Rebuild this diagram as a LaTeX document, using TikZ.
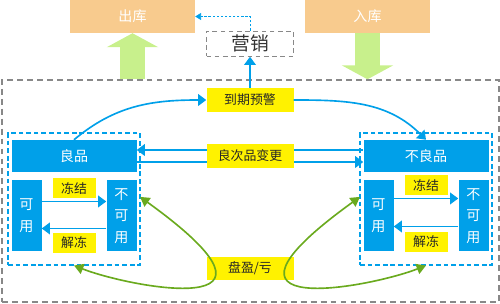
\documentclass[tikz,border=0pt]{standalone}
\usepackage{fontspec}
\newfontfamily\cjk{Noto Sans CJK SC}
\usetikzlibrary{arrows.meta, positioning, backgrounds}
\definecolor{boxblue}{RGB}{0,160,233}
\definecolor{peach}{RGB}{248,203,142}
\definecolor{lightgreen}{RGB}{200,240,140}
\definecolor{curvegreen}{RGB}{106,170,30}
\definecolor{dashgray}{RGB}{136,136,136}

\begin{document}
\begin{tikzpicture}[
    >=Triangle,
    store/.style={rectangle, draw=dashgray, line width=1.2pt, dash pattern=on 5pt off 3.5pt, minimum width=14.91cm, minimum height=6.66cm},
    group/.style={rectangle, draw=boxblue, line width=0.9pt, dash pattern=on 4pt off 2.5pt, minimum width=3.96cm, minimum height=3.96cm},
    depot/.style={rectangle, fill=peach, text=white, minimum width=3.75cm, minimum height=0.99cm, font=\cjk\fontsize{12}{14}\selectfont},
    quality/.style={rectangle, fill=boxblue, text=white, minimum width=3.75cm, minimum height=0.96cm, font=\cjk\fontsize{12}{14}\selectfont},
    state/.style={rectangle, fill=boxblue, text=white, minimum width=0.9cm, minimum height=2.13cm, inner sep=0pt, align=center, font=\cjk\fontsize{12}{18.5}\selectfont},
    event/.style={rectangle, fill=yellow, text=black!85, minimum width=2.61cm, minimum height=0.72cm, inner sep=0pt, font=\cjk\fontsize{11}{13}\selectfont},
    tag/.style={event, minimum width=1.29cm, minimum height=0.6cm},
    arrow/.style={-{Triangle[length=7pt, width=10pt]}, line width=1.4pt, draw=boxblue},
    bigarrow/.style={-{Triangle[length=0.42cm, width=1.53cm]}, line width=0.75cm, draw=lightgreen},
    count/.style={{Triangle[length=8pt, width=9pt]}-{Triangle[length=8pt, width=9pt]}, line width=1.4pt, draw=curvegreen}
]
\useasboundingbox (0,0) rectangle (15,9.12);

% --- Warehouse frame ---
\node[store] (store) at (7.515,3.39) {};

% --- In / Out ---
\node[depot] (chuku) at (3.975,8.625) {出库};
\node[depot] (ruku) at (11.025,8.625) {入库};

\begin{scope}[on background layer]
\draw[bigarrow] (store.north -| chuku.south) -- (chuku.south);
\draw[bigarrow] (ruku.south) -- (store.north -| ruku.south);
\end{scope}

% --- Expiry and marketing ---
\node[event] (daoqi) at (7.5,6.12) {到期预警};
\node[rectangle, draw=dashgray, line width=0.9pt, dash pattern=on 4pt off 3pt, minimum width=2.61cm, minimum height=0.72cm, font=\cjk\fontsize{16}{18}\selectfont, text=black!80, above=0.93cm of daoqi] (yingxiao) {营销};
\draw[arrow] (daoqi) -- (yingxiao);
\draw[-{Triangle[length=5pt, width=6pt]}, line width=0.6pt, draw=boxblue, dash pattern=on 2pt off 1.5pt] (yingxiao.north) |- (chuku.east);

% --- Good goods ---
\node[group] (goodgrp) at (2.22,3.15) {};
\node[quality] (good) at (2.22,4.44) {良品};
\node[state, below right=0.24cm and 0cm of good.south west] (goodok) {可\\用};
\node[state, below left=0.24cm and 0cm of good.south east] (goodlock) {不\\可\\用};
\draw[arrow] ([yshift=0.435cm]goodok.east) -- node[tag, above=2pt] (freezeL) {冻结} ([yshift=0.435cm]goodlock.west);
\draw[arrow] ([yshift=-0.375cm]goodlock.west) -- node[tag, below=3pt] (thawL) {解冻} ([yshift=-0.375cm]goodok.east);

% --- Bad goods ---
\node[group] (badgrp) at (12.78,3.15) {};
\node[quality] (bad) at (12.78,4.44) {不良品};
\node[state, below right=0.24cm and 0cm of bad.south west] (badok) {可\\用};
\node[state, below left=0.24cm and 0cm of bad.south east] (badlock) {不\\可\\用};
\draw[arrow] ([yshift=0.525cm]badok.east) -- node[tag, above=2pt] (freezeR) {冻结} ([yshift=0.525cm]badlock.west);
\draw[arrow] ([yshift=-0.315cm]badlock.west) -- node[tag, below=4pt] (thawR) {解冻} ([yshift=-0.315cm]badok.east);

% --- Quality change ---
\draw[arrow] ([yshift=0.18cm]bad.west) -- ([yshift=0.18cm]good.east);
\draw[arrow] ([yshift=-0.18cm]good.east) -- ([yshift=-0.18cm]bad.west);
\node[event] (change) at (7.5,4.44) {良次品变更};

% --- Expiry curves ---
\draw[arrow] (good.north) to[out=40, in=180] (daoqi.west);
\draw[arrow] (daoqi.east) to[out=0, in=135] (bad.north);

% --- Stock count ---
\node[event, minimum height=0.69cm] (pankui) at (7.5,1.065) {盘盈/亏};
\draw[count] (goodgrp.south) .. controls +(1.65,-0.65) and +(5.24,-3.78) .. ([xshift=0.1cm, yshift=-0.5cm]goodlock.north east);
\draw[count] (badgrp.south) .. controls +(-1.65,-0.65) and +(-5.24,-3.78) .. ([xshift=-0.1cm, yshift=-0.5cm]badok.north west);

\end{tikzpicture}
\end{document}
